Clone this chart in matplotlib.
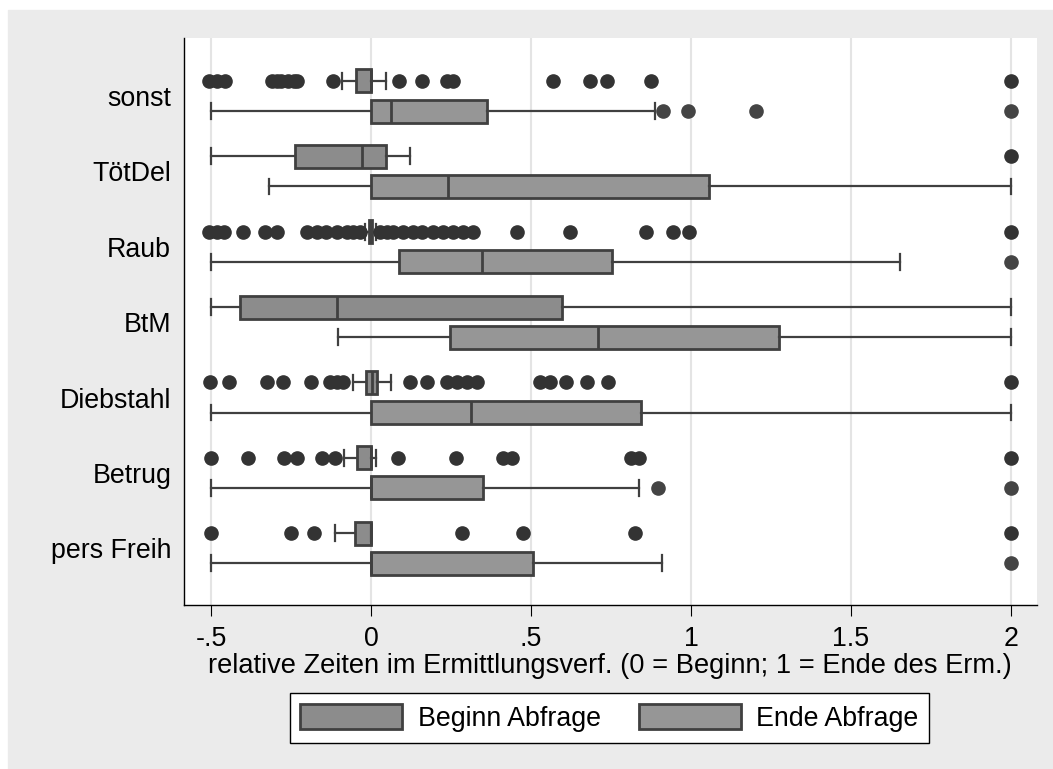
import numpy as np
import matplotlib
matplotlib.use("Agg")
import matplotlib.pyplot as plt
from matplotlib.patches import Rectangle, Patch

plt.rcParams['font.family'] = ['Liberation Sans', 'DejaVu Sans']
plt.rcParams['font.size'] = 19.3

# categories (top to bottom)
categories = ["sonst", "TötDel", "Raub", "BtM", "Diebstahl", "Betrug", "pers Freih"]

# Beginn Abfrage box stats
beginn_whislo = [-0.09, -0.5, -0.02, -0.5, -0.055, -0.084, -0.111]
beginn_q1 = [-0.048, -0.238, -0.006, -0.41, -0.016, -0.045, -0.05]
beginn_med = [0.0, -0.029, 0.0, -0.106, 0.003, 0.0, 0.0]
beginn_q3 = [0.0, 0.046, 0.004, 0.598, 0.02, 0.0, 0.0]
beginn_whishi = [0.046, 0.122, 0.015, 2.0, 0.062, 0.016, 0.0]
beginn_fliers = [
    [-0.505, -0.48, -0.456, -0.31, -0.295, -0.28, -0.26, -0.24, -0.23, -0.12,
     0.087, 0.158, 0.237, 0.257, 0.57, 0.684, 0.737, 0.875, 2.0],
    [2.0],
    [-0.505, -0.48, -0.46, -0.40, -0.33, -0.295, -0.20, -0.17, -0.14, -0.107,
     -0.076, -0.055, -0.034, 0.028, 0.049, 0.07, 0.10, 0.13, 0.16, 0.195,
     0.226, 0.257, 0.289, 0.32, 0.455, 0.622, 0.858, 0.943, 0.995, 2.0],
    [],
    [-0.503, -0.443, -0.326, -0.274, -0.1875, -0.128, -0.107, -0.087, 0.122,
     0.174, 0.237, 0.268, 0.30, 0.33, 0.528, 0.56, 0.61, 0.674, 0.74, 2.0],
    [-0.5, -0.383, -0.272, -0.23, -0.154, -0.1125, 0.083, 0.266, 0.413, 0.44,
     0.8125, 0.838, 2.0],
    [-0.5, -0.251, -0.177, 0.283, 0.476, 0.826, 2.0],
]

# Ende Abfrage box stats
ende_whislo = [-0.5, -0.318, -0.5, -0.102, -0.5, -0.5, -0.5]
ende_q1 = [0.0, 0.0, 0.089, 0.247, 0.0, 0.0, 0.0]
ende_med = [0.062, 0.242, 0.348, 0.708, 0.311, 0.0, 0.0]
ende_q3 = [0.363, 1.057, 0.752, 1.274, 0.844, 0.349, 0.505]
ende_whishi = [0.888, 2.0, 1.653, 2.0, 2.0, 0.8375, 0.91]
ende_fliers = [[0.913, 0.99, 1.202, 2.0], [], [2.0], [], [], [0.896, 2.0], [2.0]]

xticks = [-0.5, 0, 0.5, 1, 1.5, 2]
xticklabels = ["-.5", "0", ".5", "1", "1.5", "2"]


def make_stats(lo, q1, med, q3, hi, fl):
    return [dict(whislo=a, q1=b, med=c, q3=d, whishi=e, fliers=f)
            for a, b, c, d, e, f in zip(lo, q1, med, q3, hi, fl)]


beginn_stats = make_stats(beginn_whislo, beginn_q1, beginn_med, beginn_q3, beginn_whishi, beginn_fliers)
ende_stats = make_stats(ende_whislo, ende_q1, ende_med, ende_q3, ende_whishi, ende_fliers)

fig = plt.figure(figsize=(10.53, 7.69), dpi=100, facecolor='white')
# grey graph region (Stata style), thin white margin top/left
fig.patches.append(Rectangle((8 / 1053, 0), 1, 1 - 10 / 769,
                             transform=fig.transFigure, color='#ebebeb', zorder=-10))
ax = fig.add_axes([0.1745, 0.2133, 0.8103, 0.7377])
ax.set_facecolor('white')

edge = '#404040'
c_beg = '#8c8c8c'
c_end = '#969696'
pos = np.arange(len(categories))

for stats, offs, fc, mc in [(beginn_stats, -0.2, c_beg, '#333333'),
                            (ende_stats, 0.2, c_end, '#444444')]:
    ax.bxp(stats, positions=pos + offs, widths=0.305, capwidths=0.21,
           orientation='horizontal', patch_artist=True,
           boxprops=dict(facecolor=fc, edgecolor=edge, linewidth=2.0),
           medianprops=dict(color=edge, linewidth=2.0),
           whiskerprops=dict(color=edge, linewidth=1.6),
           capprops=dict(color=edge, linewidth=1.6),
           flierprops=dict(marker='o', markerfacecolor=mc, markeredgecolor=mc,
                           markersize=9.5, linestyle='none'),
           manage_ticks=False)

ax.set_xlim(-0.585, 2.081)
ax.set_ylim(6.752, -0.773)
ax.set_xticks(xticks)
ax.set_xticklabels(xticklabels)
ax.set_yticks(pos)
ax.set_yticklabels(categories)
ax.tick_params(axis='x', length=8, width=0.8, pad=7)
ax.tick_params(axis='y', length=0, pad=9)
ax.grid(axis='x', color='#e4e4e4', linewidth=1.5)
ax.set_axisbelow(True)
for s in ['top', 'right']:
    ax.spines[s].set_visible(False)
for s in ['left', 'bottom']:
    ax.spines[s].set_linewidth(1.0)
ax.set_xlabel("relative Zeiten im Ermittlungsverf. (0 = Beginn; 1 = Ende des Erm.)",
              labelpad=1, fontsize=19.6)

handles = [Patch(facecolor=c_beg, edgecolor=edge, linewidth=2.0),
           Patch(facecolor=c_end, edgecolor=edge, linewidth=2.0)]
leg = fig.legend(handles, ["Beginn Abfrage", "Ende Abfrage"], loc='center',
                 bbox_to_anchor=(609.5 / 1053, 1 - 718 / 769), ncol=2,
                 fancybox=False, framealpha=1, edgecolor='black',
                 handlelength=3.8, handleheight=1.05, handletextpad=0.57,
                 columnspacing=1.44, borderpad=0.4)
leg.get_frame().set_linewidth(1.0)

fig.savefig("out.png", dpi=100, facecolor=fig.get_facecolor())
